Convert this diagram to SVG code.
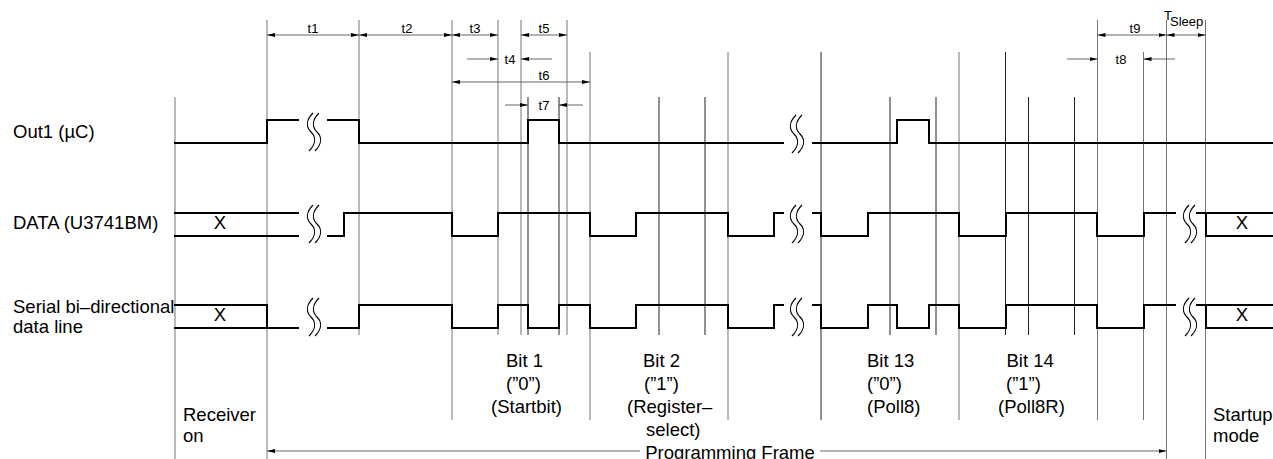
<svg xmlns="http://www.w3.org/2000/svg" width="1273" height="459" viewBox="0 0 1273 459">
<style>
  .lbl{font-family:"Liberation Sans",Arial,sans-serif;font-size:18.5px;fill:#000}
  .tl{font-family:"Liberation Sans",Arial,sans-serif;font-size:13px;fill:#000}
  .g{stroke:#777;stroke-width:1;fill:none}
  .k{stroke:#222;stroke-width:1;fill:none}
  .sig{stroke:#000;stroke-width:2;fill:none;stroke-linejoin:miter;stroke-linecap:square}
  .dim{stroke:#666;stroke-width:1;fill:none}
  .brk{stroke:#000;stroke-width:1.2;fill:none}
</style>
<defs>
  <marker id="ah" viewBox="0 0 8 4" refX="8" refY="2" markerWidth="8" markerHeight="4" markerUnits="userSpaceOnUse" orient="auto-start-reverse">
    <path d="M0,0 L8,2 L0,4 z" fill="#000"/>
  </marker>
  <path id="brk" class="brk" d="M-1,-19 C-8,-12 -8,-5 -3,0 C2,5 2,12 -5,19 M5,-19 C-2,-12 -2,-5 3,0 C8,5 8,12 1,19"/>
</defs>
<rect width="1273" height="459" fill="#fff"/>

<g id="grid">
  <line class="g" x1="175" y1="97" x2="175" y2="459"/>
  <line class="g" x1="267" y1="20" x2="267" y2="459"/>
  <line class="g" x1="359" y1="20" x2="359" y2="335"/>
  <line class="g" x1="452" y1="20" x2="452" y2="420"/>
  <line class="g" x1="498" y1="20" x2="498" y2="335"/>
  <line class="g" x1="521" y1="20" x2="521" y2="335"/>
  <line class="k" x1="528" y1="97" x2="528" y2="335"/>
  <line class="k" x1="559" y1="97" x2="559" y2="335"/>
  <line class="g" x1="567" y1="20" x2="567" y2="335"/>
  <line class="g" x1="590" y1="52" x2="590" y2="420"/>
  <line class="k" x1="659" y1="97" x2="659" y2="335"/>
  <line class="k" x1="705" y1="97" x2="705" y2="335"/>
  <line class="g" x1="728" y1="52" x2="728" y2="420"/>
  <line class="k" x1="821" y1="52" x2="821" y2="420"/>
  <line class="k" x1="890" y1="97" x2="890" y2="335"/>
  <line class="k" x1="936" y1="97" x2="936" y2="335"/>
  <line class="g" x1="959" y1="52" x2="959" y2="420"/>
  <line class="k" x1="1005.5" y1="52" x2="1005.5" y2="335"/>
  <line class="k" x1="1028.5" y1="97" x2="1028.5" y2="335"/>
  <line class="k" x1="1074.5" y1="97" x2="1074.5" y2="335"/>
  <line class="g" x1="1097.5" y1="20" x2="1097.5" y2="420"/>
  <line class="g" x1="1143.5" y1="52" x2="1143.5" y2="420"/>
  <line class="g" x1="1166.5" y1="20" x2="1166.5" y2="459"/>
  <line class="g" x1="1205.5" y1="20" x2="1205.5" y2="459"/>
</g>

<g id="signal-labels">
  <text class="lbl" x="13" y="138">Out1 (µC)</text>
  <text class="lbl" x="13" y="229">DATA (U3741BM)</text>
  <text class="lbl" x="13" y="313">Serial bi–directional</text>
  <text class="lbl" x="13" y="333">data line</text>
</g>

<g id="out1">
  <path class="sig" d="M175,143 H267 V120 H298"/>
  <path class="sig" d="M328,120 H359 V143 H528 V120 H559 V143 H783"/>
  <path class="sig" d="M813,143 H897 V120 H929 V143 H1273"/>
  <use href="#brk" x="314" y="132"/>
  <use href="#brk" x="797" y="134"/>
</g>

<g id="data">
  <path class="sig" d="M175,213 H298 M175,236 H298"/>
  <text class="lbl" x="220" y="229" text-anchor="middle">X</text>
  <path class="sig" d="M328,236 H344 V213 H452 V236 H498 V213 H590 V236 H636 V213 H728 V236 H774 V213 H783"/>
  <path class="sig" d="M813,213 H821 V236 H868 V213 H959 V236 H1006 V213 H1097 V236 H1144 V213 H1175"/>
  <path class="sig" d="M1197,213 H1273 M1206,213 V236 H1273"/>
  <text class="lbl" x="1242" y="229" text-anchor="middle">X</text>
  <use href="#brk" x="314" y="224"/>
  <use href="#brk" x="797" y="224"/>
  <use href="#brk" x="1190" y="224"/>
</g>

<g id="serial">
  <path class="sig" d="M175,305 H267 V328 M175,328 H298"/>
  <text class="lbl" x="220" y="321" text-anchor="middle">X</text>
  <path class="sig" d="M328,328 H359 V305 H452 V328 H498 V305 H528 V328 H559 V305 H590 V328 H636 V305 H728 V328 H774 V305 H783"/>
  <path class="sig" d="M813,305 H821 V328 H868 V305 H897 V328 H929 V305 H959 V328 H1006 V305 H1097 V328 H1144 V305 H1175"/>
  <path class="sig" d="M1197,305 H1273 M1206,305 V328 H1273"/>
  <text class="lbl" x="1242" y="321" text-anchor="middle">X</text>
  <use href="#brk" x="314" y="317"/>
  <use href="#brk" x="797" y="317"/>
  <use href="#brk" x="1190" y="317"/>
</g>

<g id="connectors">
  <line class="dim" x1="267" y1="35" x2="359" y2="35" marker-start="url(#ah)" marker-end="url(#ah)"/>
  <line class="dim" x1="359" y1="35" x2="452" y2="35" marker-start="url(#ah)" marker-end="url(#ah)"/>
  <line class="dim" x1="452" y1="35" x2="498" y2="35" marker-start="url(#ah)" marker-end="url(#ah)"/>
  <line class="dim" x1="521" y1="35" x2="567" y2="35" marker-start="url(#ah)" marker-end="url(#ah)"/>
  <line class="dim" x1="467" y1="59" x2="498" y2="59" marker-end="url(#ah)"/>
  <line class="dim" x1="552" y1="59" x2="521" y2="59" marker-end="url(#ah)"/>
  <line class="dim" x1="452" y1="82" x2="590" y2="82" marker-start="url(#ah)" marker-end="url(#ah)"/>
  <line class="dim" x1="505" y1="105" x2="528" y2="105" marker-end="url(#ah)"/>
  <line class="dim" x1="583" y1="105" x2="559" y2="105" marker-end="url(#ah)"/>
  <line class="dim" x1="1097.5" y1="35" x2="1166.5" y2="35" marker-start="url(#ah)" marker-end="url(#ah)"/>
  <line class="dim" x1="1166.5" y1="35" x2="1205.5" y2="35" marker-start="url(#ah)" marker-end="url(#ah)"/>
  <line class="dim" x1="1067" y1="59" x2="1097.5" y2="59" marker-end="url(#ah)"/>
  <line class="dim" x1="1175" y1="59" x2="1143.5" y2="59" marker-end="url(#ah)"/>
  <line class="dim" x1="267" y1="451" x2="640" y2="451" marker-start="url(#ah)"/>
  <line class="dim" x1="820" y1="451" x2="1166.5" y2="451" marker-end="url(#ah)"/>
</g>

<g id="timing-labels">
  <text class="tl" x="313" y="33" text-anchor="middle">t1</text>
  <text class="tl" x="407" y="33" text-anchor="middle">t2</text>
  <text class="tl" x="475" y="33" text-anchor="middle">t3</text>
  <text class="tl" x="544" y="33" text-anchor="middle">t5</text>
  <text class="tl" x="510" y="63.5" text-anchor="middle">t4</text>
  <text class="tl" x="544" y="80" text-anchor="middle">t6</text>
  <text class="tl" x="544" y="110" text-anchor="middle">t7</text>
  <text class="tl" x="1135" y="32.5" text-anchor="middle">t9</text>
  <text class="tl" x="1121" y="64" text-anchor="middle">t8</text>
  <text class="tl" x="1164" y="20">T</text>
  <text class="tl" x="1170" y="26">Sleep</text>
</g>

<g id="bit-labels">
  <text class="lbl" x="506" y="367">Bit 1</text>
  <text class="lbl" x="506" y="389.5">(”0”)</text>
  <text class="lbl" x="491" y="413">(Startbit)</text>
  <text class="lbl" x="643" y="367">Bit 2</text>
  <text class="lbl" x="644" y="389.5">(”1”)</text>
  <text class="lbl" x="627" y="413">(Register–</text>
  <text class="lbl" x="646" y="436">select)</text>
  <text class="lbl" x="867" y="367">Bit 13</text>
  <text class="lbl" x="867" y="389.5">(”0”)</text>
  <text class="lbl" x="867" y="413">(Poll8)</text>
  <text class="lbl" x="1006.5" y="367">Bit 14</text>
  <text class="lbl" x="1006" y="389.5">(”1”)</text>
  <text class="lbl" x="998" y="413">(Poll8R)</text>
  <text class="lbl" x="183" y="421">Receiver</text>
  <text class="lbl" x="183" y="442">on</text>
  <text class="lbl" x="1213" y="421">Startup</text>
  <text class="lbl" x="1213" y="442">mode</text>
  <text class="lbl" x="730" y="459" text-anchor="middle">Programming Frame</text>
</g>
</svg>
